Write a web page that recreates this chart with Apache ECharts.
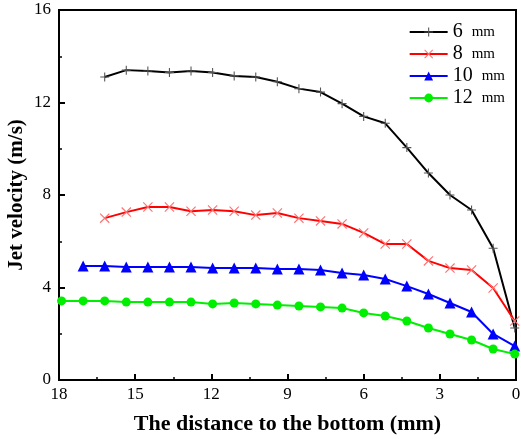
<!DOCTYPE html>
<html>
<head>
<meta charset="utf-8">
<script src="https://cdn.jsdelivr.net/npm/echarts@6/dist/echarts.min.js"></script>
<style>
  html, body { margin: 0; padding: 0; background: #fff; }
  #chart { width: 521px; height: 439px; }
</style>
</head>
<body>
<div id="chart"></div>
<script>
// distance to the bottom (mm)
const x6 = [16.2, 15.35, 14.5, 13.65, 12.8, 11.95, 11.1, 10.25, 9.4, 8.55, 7.7, 6.85, 6.0, 5.15, 4.3, 3.45, 2.6, 1.75, 0.9, 0.05]
const x8 = [16.2, 15.35, 14.5, 13.65, 12.8, 11.95, 11.1, 10.25, 9.4, 8.55, 7.7, 6.85, 6.0, 5.15, 4.3, 3.45, 2.6, 1.75, 0.9, 0.05]
const x10 = [17.05, 16.2, 15.35, 14.5, 13.65, 12.8, 11.95, 11.1, 10.25, 9.4, 8.55, 7.7, 6.85, 6.0, 5.15, 4.3, 3.45, 2.6, 1.75, 0.9, 0.05]
const x12 = [17.9, 17.05, 16.2, 15.35, 14.5, 13.65, 12.8, 11.95, 11.1, 10.25, 9.4, 8.55, 7.7, 6.85, 6.0, 5.15, 4.3, 3.45, 2.6, 1.75, 0.9, 0.05]

// jet velocity (m/s)
const v6 = [13.1, 13.4, 13.36, 13.3, 13.36, 13.3, 13.15, 13.1, 12.9, 12.6, 12.45, 11.95, 11.4, 11.1, 10.05, 8.95, 8.0, 7.35, 5.7, 2.25]
const v8 = [7.0, 7.26, 7.48, 7.48, 7.3, 7.35, 7.3, 7.13, 7.22, 7.0, 6.88, 6.75, 6.36, 5.88, 5.88, 5.15, 4.84, 4.76, 3.98, 2.55]
const v10 = [4.93, 4.93, 4.89, 4.89, 4.89, 4.89, 4.84, 4.84, 4.84, 4.8, 4.8, 4.76, 4.63, 4.54, 4.37, 4.06, 3.72, 3.33, 2.94, 1.99, 1.47]
const v12 = [3.42, 3.42, 3.42, 3.37, 3.37, 3.37, 3.37, 3.29, 3.33, 3.29, 3.24, 3.2, 3.16, 3.11, 2.9, 2.77, 2.55, 2.25, 1.99, 1.73, 1.34, 1.12]

const names = ['6  mm', '8  mm', '10  mm', '12  mm']

const font = 'Liberation Serif'
const plusPath = 'path://M0,4.4h10v1.2h-10z M4.4,0h1.2v10h-1.2z'
const crossPath = 'path://M0,0.8 L0.8,0 L10,9.2 L9.2,10 Z M9.2,0 L10,0.8 L0.8,10 L0,9.2 Z'

const pairs = (xs, ys) => xs.map((x, i) => [x, ys[i]])

const chart = echarts.init(document.getElementById('chart'))

const axisCommon = {
  axisLine: { show: true, onZero: false, lineStyle: { color: '#000', width: 2 } },
  axisTick: { show: true, inside: true, length: 6, lineStyle: { color: '#000', width: 2 } },
  minorTick: { show: true, splitNumber: 2, length: 3, lineStyle: { color: '#000', width: 1.5 } },
  splitLine: { show: false },
  axisLabel: { color: '#000', fontFamily: font, fontSize: 17 },
  nameMoveOverlap: false,
  nameTextStyle: { color: '#000', fontFamily: font, fontSize: 22, fontWeight: 'bold' }
}

chart.setOption({
  animation: false,
  backgroundColor: '#fff',
  grid: {
    left: 59, right: 5, top: 10, bottom: 59,
    outerBoundsMode: 'none',
    containLabel: false,
    show: true, borderColor: '#000', borderWidth: 2
  },
  legend: {
    orient: 'vertical',
    right: 11,
    top: 17,
    itemWidth: 38,
    itemHeight: 11,
    itemGap: 2,
    textStyle: {
      color: '#000',
      fontFamily: font,
      rich: {
        n: { fontFamily: font, fontSize: 20, lineHeight: 19, color: '#000' },
        u: { fontFamily: font, fontSize: 15, lineHeight: 19, color: '#000' }
      }
    },
    formatter: name => {
      const parts = name.split(/\s+/)
      return '{n|' + parts[0] + '}   {u|' + parts[1] + '}'
    },
    data: names
  },
  xAxis: {
    ...axisCommon,
    type: 'value',
    inverse: true,
    min: 0,
    max: 18,
    interval: 3,
    name: 'The distance to the bottom (mm)',
    nameLocation: 'middle',
    nameGap: 33,
    axisLabel: { ...axisCommon.axisLabel, margin: 6 }
  },
  yAxis: {
    ...axisCommon,
    type: 'value',
    position: 'left',
    min: 0,
    max: 16,
    interval: 4,
    name: 'Jet velocity (m/s)',
    nameLocation: 'middle',
    nameGap: 32,
    nameTextStyle: { ...axisCommon.nameTextStyle, fontSize: 21 },
    axisLabel: { ...axisCommon.axisLabel, margin: 8 }
  },
  series: [
    {
      name: names[0],
      type: 'line',
      data: pairs(x6, v6),
      symbol: plusPath,
      symbolSize: 9,
      lineStyle: { color: '#000', width: 2 },
      itemStyle: { color: '#555' }
    },
    {
      name: names[1],
      type: 'line',
      data: pairs(x8, v8),
      symbol: crossPath,
      symbolSize: 10,
      lineStyle: { color: '#ff0000', width: 2 },
      itemStyle: { color: '#ff7070' }
    },
    {
      name: names[2],
      type: 'line',
      data: pairs(x10, v10),
      symbol: 'triangle',
      symbolSize: 11,
      lineStyle: { color: '#0000ff', width: 2 },
      itemStyle: { color: '#0000ff' }
    },
    {
      name: names[3],
      type: 'line',
      data: pairs(x12, v12),
      symbol: 'circle',
      symbolSize: 9,
      lineStyle: { color: '#00ee00', width: 2 },
      itemStyle: { color: '#00ee00' }
    }
  ]
})
</script>
</body>
</html>
